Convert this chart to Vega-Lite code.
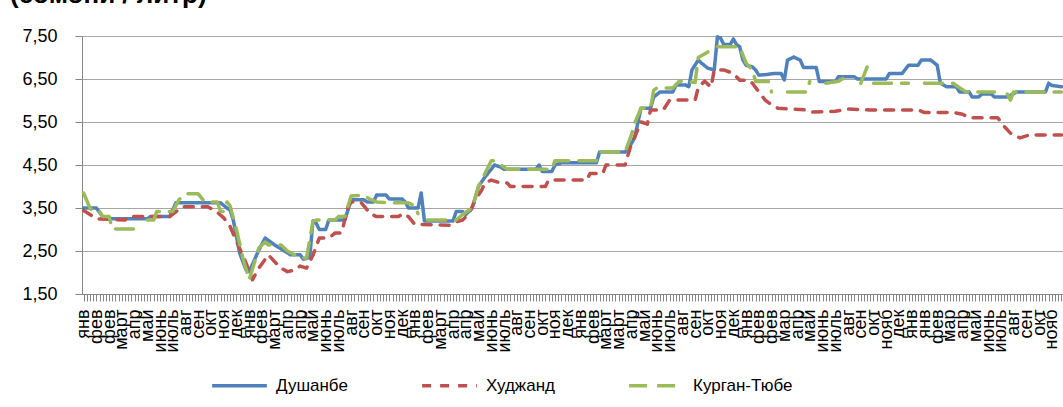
{
  "$schema": "https://vega.github.io/schema/vega-lite/v6.json",
  "width": 981,
  "height": 258,
  "autosize": {"type": "none"},
  "padding": {"left": 82, "top": 36, "right": 0, "bottom": 113},
  "background": "white",
  "config": {"view": {"stroke": null}, "font": "Liberation Sans"},
  "title": {"text": "(сомони / литр)", "anchor": "start", "frame": "group", "dx": -72, "dy": 15, "offset": 8, "fontSize": 26, "fontWeight": "bold", "font": "Liberation Sans", "color": "#000000", "baseline": "bottom"},
  "data": {"values": [
    {"i":0,"s":"Душанбе","v":3.50},{"i":4,"s":"Душанбе","v":3.50},{"i":6,"s":"Душанбе","v":3.30},{"i":9,"s":"Душанбе","v":3.25},{"i":20,"s":"Душанбе","v":3.25},{"i":21,"s":"Душанбе","v":3.30},{"i":27,"s":"Душанбе","v":3.30},{"i":29,"s":"Душанбе","v":3.62},{"i":43,"s":"Душанбе","v":3.62},{"i":45,"s":"Душанбе","v":3.50},{"i":46,"s":"Душанбе","v":3.45},{"i":47,"s":"Душанбе","v":3.22},{"i":49,"s":"Душанбе","v":2.45},{"i":51,"s":"Душанбе","v":2.06},{"i":52,"s":"Душанбе","v":2.02},{"i":55,"s":"Душанбе","v":2.52},{"i":57,"s":"Душанбе","v":2.80},{"i":60,"s":"Душанбе","v":2.64},{"i":65,"s":"Душанбе","v":2.41},{"i":68,"s":"Душанбе","v":2.41},{"i":69,"s":"Душанбе","v":2.31},{"i":71,"s":"Душанбе","v":2.35},{"i":72,"s":"Душанбе","v":3.20},{"i":73,"s":"Душанбе","v":3.15},{"i":74,"s":"Душанбе","v":3.00},{"i":76,"s":"Душанбе","v":3.00},{"i":77,"s":"Душанбе","v":3.22},{"i":82,"s":"Душанбе","v":3.22},{"i":83,"s":"Душанбе","v":3.45},{"i":84,"s":"Душанбе","v":3.69},{"i":88,"s":"Душанбе","v":3.69},{"i":89,"s":"Душанбе","v":3.64},{"i":91,"s":"Душанбе","v":3.64},{"i":92,"s":"Душанбе","v":3.80},{"i":95,"s":"Душанбе","v":3.80},{"i":96,"s":"Душанбе","v":3.71},{"i":100,"s":"Душанбе","v":3.71},{"i":101,"s":"Душанбе","v":3.64},{"i":102,"s":"Душанбе","v":3.50},{"i":105,"s":"Душанбе","v":3.50},{"i":106,"s":"Душанбе","v":3.85},{"i":107,"s":"Душанбе","v":3.20},{"i":116,"s":"Душанбе","v":3.20},{"i":117,"s":"Душанбе","v":3.42},{"i":119,"s":"Душанбе","v":3.42},{"i":120,"s":"Душанбе","v":3.35},{"i":122,"s":"Душанбе","v":3.50},{"i":124,"s":"Душанбе","v":4.00},{"i":126,"s":"Душанбе","v":4.22},{"i":128,"s":"Душанбе","v":4.40},{"i":129,"s":"Душанбе","v":4.50},{"i":131,"s":"Душанбе","v":4.45},{"i":132,"s":"Душанбе","v":4.40},{"i":142,"s":"Душанбе","v":4.40},{"i":143,"s":"Душанбе","v":4.50},{"i":144,"s":"Душанбе","v":4.35},{"i":147,"s":"Душанбе","v":4.35},{"i":148,"s":"Душанбе","v":4.50},{"i":150,"s":"Душанбе","v":4.55},{"i":161,"s":"Душанбе","v":4.55},{"i":162,"s":"Душанбе","v":4.80},{"i":170,"s":"Душанбе","v":4.80},{"i":172,"s":"Душанбе","v":5.00},{"i":173,"s":"Душанбе","v":5.13},{"i":175,"s":"Душанбе","v":5.82},{"i":178,"s":"Душанбе","v":5.82},{"i":179,"s":"Душанбе","v":6.08},{"i":181,"s":"Душанбе","v":6.20},{"i":185,"s":"Душанбе","v":6.20},{"i":186,"s":"Душанбе","v":6.36},{"i":189,"s":"Душанбе","v":6.36},{"i":190,"s":"Душанбе","v":6.32},{"i":191,"s":"Душанбе","v":6.71},{"i":193,"s":"Душанбе","v":6.94},{"i":194,"s":"Душанбе","v":6.87},{"i":196,"s":"Душанбе","v":6.75},{"i":198,"s":"Душанбе","v":6.71},{"i":199,"s":"Душанбе","v":7.48},{"i":200,"s":"Душанбе","v":7.45},{"i":201,"s":"Душанбе","v":7.30},{"i":203,"s":"Душанбе","v":7.30},{"i":204,"s":"Душанбе","v":7.43},{"i":205,"s":"Душанбе","v":7.30},{"i":206,"s":"Душанбе","v":7.25},{"i":207,"s":"Душанбе","v":6.94},{"i":208,"s":"Душанбе","v":6.82},{"i":210,"s":"Душанбе","v":6.78},{"i":211,"s":"Душанбе","v":6.71},{"i":212,"s":"Душанбе","v":6.59},{"i":214,"s":"Душанбе","v":6.60},{"i":217,"s":"Душанбе","v":6.63},{"i":219,"s":"Душанбе","v":6.63},{"i":220,"s":"Душанбе","v":6.48},{"i":221,"s":"Душанбе","v":6.94},{"i":223,"s":"Душанбе","v":7.01},{"i":225,"s":"Душанбе","v":6.94},{"i":226,"s":"Душанбе","v":6.77},{"i":230,"s":"Душанбе","v":6.77},{"i":231,"s":"Душанбе","v":6.44},{"i":236,"s":"Душанбе","v":6.44},{"i":237,"s":"Душанбе","v":6.55},{"i":242,"s":"Душанбе","v":6.55},{"i":243,"s":"Душанбе","v":6.50},{"i":252,"s":"Душанбе","v":6.50},{"i":253,"s":"Душанбе","v":6.63},{"i":257,"s":"Душанбе","v":6.63},{"i":259,"s":"Душанбе","v":6.82},{"i":262,"s":"Душанбе","v":6.82},{"i":263,"s":"Душанбе","v":6.94},{"i":266,"s":"Душанбе","v":6.94},{"i":268,"s":"Душанбе","v":6.82},{"i":269,"s":"Душанбе","v":6.40},{"i":271,"s":"Душанбе","v":6.32},{"i":274,"s":"Душанбе","v":6.32},{"i":275,"s":"Душанбе","v":6.20},{"i":278,"s":"Душанбе","v":6.20},{"i":279,"s":"Душанбе","v":6.08},{"i":281,"s":"Душанбе","v":6.08},{"i":282,"s":"Душанбе","v":6.15},{"i":285,"s":"Душанбе","v":6.15},{"i":286,"s":"Душанбе","v":6.08},{"i":290,"s":"Душанбе","v":6.08},{"i":293,"s":"Душанбе","v":6.20},{"i":302,"s":"Душанбе","v":6.20},{"i":303,"s":"Душанбе","v":6.40},{"i":304,"s":"Душанбе","v":6.35},{"i":307,"s":"Душанбе","v":6.32},
    {"i":0,"s":"Худжанд","v":3.44},{"i":2,"s":"Худжанд","v":3.35},{"i":4,"s":"Худжанд","v":3.25},{"i":13,"s":"Худжанд","v":3.22},{"i":14,"s":"Худжанд","v":3.30},{"i":27,"s":"Худжанд","v":3.30},{"i":31,"s":"Худжанд","v":3.53},{"i":39,"s":"Худжанд","v":3.53},{"i":42,"s":"Худжанд","v":3.40},{"i":44,"s":"Худжанд","v":3.27},{"i":46,"s":"Худжанд","v":3.07},{"i":48,"s":"Худжанд","v":2.73},{"i":51,"s":"Худжанд","v":2.22},{"i":53,"s":"Худжанд","v":1.83},{"i":55,"s":"Худжанд","v":2.10},{"i":58,"s":"Худжанд","v":2.41},{"i":60,"s":"Худжанд","v":2.25},{"i":62,"s":"Худжанд","v":2.10},{"i":64,"s":"Худжанд","v":2.02},{"i":66,"s":"Худжанд","v":2.05},{"i":68,"s":"Худжанд","v":2.15},{"i":70,"s":"Худжанд","v":2.10},{"i":72,"s":"Худжанд","v":2.40},{"i":74,"s":"Худжанд","v":2.80},{"i":77,"s":"Худжанд","v":2.80},{"i":79,"s":"Худжанд","v":2.92},{"i":81,"s":"Худжанд","v":2.92},{"i":83,"s":"Худжанд","v":3.52},{"i":84,"s":"Худжанд","v":3.64},{"i":87,"s":"Худжанд","v":3.64},{"i":90,"s":"Худжанд","v":3.37},{"i":92,"s":"Худжанд","v":3.30},{"i":99,"s":"Худжанд","v":3.30},{"i":100,"s":"Худжанд","v":3.37},{"i":102,"s":"Худжанд","v":3.30},{"i":104,"s":"Худжанд","v":3.12},{"i":115,"s":"Худжанд","v":3.10},{"i":117,"s":"Худжанд","v":3.18},{"i":119,"s":"Худжанд","v":3.22},{"i":121,"s":"Худжанд","v":3.37},{"i":123,"s":"Худжанд","v":3.69},{"i":125,"s":"Худжанд","v":3.92},{"i":126,"s":"Худжанд","v":4.08},{"i":128,"s":"Худжанд","v":4.15},{"i":131,"s":"Худжанд","v":4.08},{"i":133,"s":"Худжанд","v":4.08},{"i":134,"s":"Худжанд","v":4.00},{"i":145,"s":"Худжанд","v":4.00},{"i":146,"s":"Худжанд","v":4.15},{"i":158,"s":"Худжанд","v":4.15},{"i":159,"s":"Худжанд","v":4.30},{"i":163,"s":"Худжанд","v":4.30},{"i":164,"s":"Худжанд","v":4.50},{"i":170,"s":"Худжанд","v":4.50},{"i":171,"s":"Худжанд","v":4.75},{"i":172,"s":"Худжанд","v":5.00},{"i":173,"s":"Худжанд","v":5.15},{"i":175,"s":"Худжанд","v":5.50},{"i":177,"s":"Худжанд","v":5.45},{"i":178,"s":"Худжанд","v":5.78},{"i":182,"s":"Худжанд","v":5.78},{"i":184,"s":"Худжанд","v":6.01},{"i":192,"s":"Худжанд","v":6.01},{"i":193,"s":"Худжанд","v":6.31},{"i":195,"s":"Худжанд","v":6.45},{"i":197,"s":"Худжанд","v":6.31},{"i":198,"s":"Худжанд","v":6.71},{"i":201,"s":"Худжанд","v":6.71},{"i":204,"s":"Худжанд","v":6.63},{"i":206,"s":"Худжанд","v":6.47},{"i":209,"s":"Худжанд","v":6.47},{"i":210,"s":"Худжанд","v":6.40},{"i":212,"s":"Худжанд","v":6.20},{"i":214,"s":"Худжанд","v":6.01},{"i":216,"s":"Худжанд","v":5.90},{"i":218,"s":"Худжанд","v":5.82},{"i":227,"s":"Худжанд","v":5.78},{"i":229,"s":"Худжанд","v":5.73},{"i":236,"s":"Худжанд","v":5.75},{"i":240,"s":"Худжанд","v":5.80},{"i":247,"s":"Худжанд","v":5.78},{"i":262,"s":"Худжанд","v":5.78},{"i":264,"s":"Худжанд","v":5.72},{"i":273,"s":"Худжанд","v":5.72},{"i":276,"s":"Худжанд","v":5.68},{"i":278,"s":"Худжанд","v":5.60},{"i":287,"s":"Худжанд","v":5.60},{"i":289,"s":"Худжанд","v":5.40},{"i":291,"s":"Худжанд","v":5.24},{"i":294,"s":"Худжанд","v":5.13},{"i":297,"s":"Худжанд","v":5.20},{"i":307,"s":"Худжанд","v":5.20},
    {"i":0,"s":"Курган-Тюбе","v":3.85},{"i":2,"s":"Курган-Тюбе","v":3.50},{"i":3,"s":"Курган-Тюбе","v":3.42},{"i":5,"s":"Курган-Тюбе","v":3.42},{"i":6,"s":"Курган-Тюбе","v":3.30},{"i":8,"s":"Курган-Тюбе","v":3.30},{"i":9,"s":"Курган-Тюбе","v":3.01},{"i":17,"s":"Курган-Тюбе","v":3.01},{"i":18,"s":"Курган-Тюбе","v":null},{"i":20,"s":"Курган-Тюбе","v":3.22},{"i":22,"s":"Курган-Тюбе","v":3.22},{"i":23,"s":"Курган-Тюбе","v":3.42},{"i":28,"s":"Курган-Тюбе","v":3.42},{"i":30,"s":"Курган-Тюбе","v":3.70},{"i":32,"s":"Курган-Тюбе","v":3.83},{"i":36,"s":"Курган-Тюбе","v":3.83},{"i":38,"s":"Курган-Тюбе","v":3.64},{"i":42,"s":"Курган-Тюбе","v":3.64},{"i":43,"s":"Курган-Тюбе","v":3.42},{"i":44,"s":"Курган-Тюбе","v":3.42},{"i":45,"s":"Курган-Тюбе","v":3.64},{"i":46,"s":"Курган-Тюбе","v":3.55},{"i":48,"s":"Курган-Тюбе","v":3.00},{"i":50,"s":"Курган-Тюбе","v":2.34},{"i":52,"s":"Курган-Тюбе","v":1.83},{"i":55,"s":"Курган-Тюбе","v":2.57},{"i":57,"s":"Курган-Тюбе","v":2.71},{"i":58,"s":"Курган-Тюбе","v":2.64},{"i":62,"s":"Курган-Тюбе","v":2.64},{"i":64,"s":"Курган-Тюбе","v":2.50},{"i":68,"s":"Курган-Тюбе","v":2.34},{"i":70,"s":"Курган-Тюбе","v":2.34},{"i":72,"s":"Курган-Тюбе","v":3.18},{"i":73,"s":"Курган-Тюбе","v":3.22},{"i":79,"s":"Курган-Тюбе","v":3.22},{"i":80,"s":"Курган-Тюбе","v":3.30},{"i":82,"s":"Курган-Тюбе","v":3.30},{"i":84,"s":"Курган-Тюбе","v":3.78},{"i":88,"s":"Курган-Тюбе","v":3.80},{"i":90,"s":"Курган-Тюбе","v":3.70},{"i":92,"s":"Курган-Тюбе","v":3.64},{"i":97,"s":"Курган-Тюбе","v":3.62},{"i":102,"s":"Курган-Тюбе","v":3.62},{"i":104,"s":"Курган-Тюбе","v":3.55},{"i":105,"s":"Курган-Тюбе","v":3.37},{"i":106,"s":"Курган-Тюбе","v":null},{"i":108,"s":"Курган-Тюбе","v":3.22},{"i":117,"s":"Курган-Тюбе","v":3.22},{"i":119,"s":"Курган-Тюбе","v":3.35},{"i":121,"s":"Курган-Тюбе","v":3.45},{"i":122,"s":"Курган-Тюбе","v":3.50},{"i":124,"s":"Курган-Тюбе","v":4.00},{"i":126,"s":"Курган-Тюбе","v":4.30},{"i":128,"s":"Курган-Тюбе","v":4.60},{"i":129,"s":"Курган-Тюбе","v":4.60},{"i":131,"s":"Курган-Тюбе","v":4.50},{"i":133,"s":"Курган-Тюбе","v":4.40},{"i":147,"s":"Курган-Тюбе","v":4.40},{"i":148,"s":"Курган-Тюбе","v":4.60},{"i":161,"s":"Курган-Тюбе","v":4.60},{"i":162,"s":"Курган-Тюбе","v":4.80},{"i":170,"s":"Курган-Тюбе","v":4.80},{"i":172,"s":"Курган-Тюбе","v":5.20},{"i":173,"s":"Курган-Тюбе","v":5.47},{"i":175,"s":"Курган-Тюбе","v":5.82},{"i":178,"s":"Курган-Тюбе","v":5.82},{"i":179,"s":"Курган-Тюбе","v":6.24},{"i":180,"s":"Курган-Тюбе","v":6.29},{"i":185,"s":"Курган-Тюбе","v":6.29},{"i":187,"s":"Курган-Тюбе","v":6.45},{"i":189,"s":"Курган-Тюбе","v":6.45},{"i":192,"s":"Курган-Тюбе","v":6.42},{"i":193,"s":"Курган-Тюбе","v":7.00},{"i":196,"s":"Курган-Тюбе","v":7.13},{"i":197,"s":"Курган-Тюбе","v":null},{"i":199,"s":"Курган-Тюбе","v":7.25},{"i":206,"s":"Курган-Тюбе","v":7.25},{"i":208,"s":"Курган-Тюбе","v":6.87},{"i":210,"s":"Курган-Тюбе","v":6.71},{"i":211,"s":"Курган-Тюбе","v":6.44},{"i":215,"s":"Курган-Тюбе","v":6.44},{"i":216,"s":"Курган-Тюбе","v":6.20},{"i":217,"s":"Курган-Тюбе","v":null},{"i":221,"s":"Курган-Тюбе","v":6.20},{"i":227,"s":"Курган-Тюбе","v":6.20},{"i":228,"s":"Курган-Тюбе","v":6.44},{"i":229,"s":"Курган-Тюбе","v":null},{"i":233,"s":"Курган-Тюбе","v":6.40},{"i":237,"s":"Курган-Тюбе","v":6.45},{"i":241,"s":"Курган-Тюбе","v":6.62},{"i":242,"s":"Курган-Тюбе","v":null},{"i":244,"s":"Курган-Тюбе","v":6.40},{"i":246,"s":"Курган-Тюбе","v":6.78},{"i":247,"s":"Курган-Тюбе","v":null},{"i":248,"s":"Курган-Тюбе","v":6.40},{"i":259,"s":"Курган-Тюбе","v":6.40},{"i":260,"s":"Курган-Тюбе","v":null},{"i":264,"s":"Курган-Тюбе","v":6.40},{"i":273,"s":"Курган-Тюбе","v":6.40},{"i":275,"s":"Курган-Тюбе","v":6.30},{"i":277,"s":"Курган-Тюбе","v":6.20},{"i":286,"s":"Курган-Тюбе","v":6.20},{"i":287,"s":"Курган-Тюбе","v":null},{"i":290,"s":"Курган-Тюбе","v":6.15},{"i":291,"s":"Курган-Тюбе","v":6.01},{"i":292,"s":"Курган-Тюбе","v":6.20},{"i":307,"s":"Курган-Тюбе","v":6.20}
  ]},
  "mark": {"type": "line", "strokeWidth": 3.5, "strokeCap": "round", "strokeJoin": "round", "invalid": "break-paths-show-domains"},
  "encoding": {
    "x": {
      "field": "i", "type": "quantitative",
      "scale": {"domain": [-0.5, 307.5], "nice": false, "zero": false},
      "axis": {
        "title": null, "grid": false, "tickCount": 308,
        "labelExpr": "datum.value % 4 == 0 ? ['янв','фев','фев','март','апр','май','июнь','июль','авг','сен','окт','ноя','дек','янв','фев','март','апр','апр','май','июнь','июль','авг','сен','окт','ноя','дек','янв','фев','март','апр','апр','май','июнь','июль','авг','сен','окт','ноя','дек','янв','фев','март','март','апр','май','июнь','июль','авг','сен','окт','ноя','дек','янв','фев','фев','мар','апр','май','июнь','июль','авг','сен','окт','нояб','дек','янв','янв','фев','мар','апр','май','июнь','июль','авг','сен','окт','нояб'][datum.value / 4] : ''",
        "labelAngle": 270, "labelAlign": "right", "labelBaseline": "middle",
        "labelFontSize": 18, "labelColor": "#000000", "labelPadding": 8,
        "labelOverlap": false, "labelBound": false, "labelFlush": false,
        "tickSize": 7, "tickColor": "#868686", "tickWidth": 1,
        "domainColor": "#868686", "domainWidth": 1
      }
    },
    "y": {
      "field": "v", "type": "quantitative",
      "scale": {"domain": [1.5, 7.5], "nice": false, "zero": false},
      "axis": {
        "title": null, "values": [1.5, 2.5, 3.5, 4.5, 5.5, 6.5, 7.5],
        "labelExpr": "replace(format(datum.value, '.2f'), '.', ',')",
        "labelFontSize": 18, "labelColor": "#000000", "labelPadding": 18,
        "grid": true, "gridColor": "#a6a6a6", "gridWidth": 1.2,
        "tickSize": 7, "tickColor": "#868686", "domainColor": "#868686"
      }
    },
    "color": {
      "field": "s", "type": "nominal",
      "scale": {"domain": ["Душанбе", "Худжанд", "Курган-Тюбе"], "range": ["#4F81BD", "#C0504D", "#9BBB59"]},
      "legend": {"title": null, "orient": "none", "legendX": 128, "legendY": 320, "direction": "horizontal", "symbolType": "stroke", "symbolSize": 3000, "symbolStrokeWidth": 3.5, "labelFontSize": 17, "labelColor": "#000000", "labelOffset": 7, "columnPadding": 67}
    },
    "strokeDash": {
      "field": "s", "type": "nominal",
      "scale": {"domain": ["Душанбе", "Худжанд", "Курган-Тюбе"], "range": [[1, 0], [9, 9], [18, 10]]},
      "legend": {"title": null, "orient": "none", "legendX": 128, "legendY": 320, "direction": "horizontal", "symbolType": "stroke", "symbolSize": 3000, "symbolStrokeWidth": 3.5, "labelFontSize": 17, "labelColor": "#000000", "labelOffset": 7, "columnPadding": 67}
    }
  }
}
